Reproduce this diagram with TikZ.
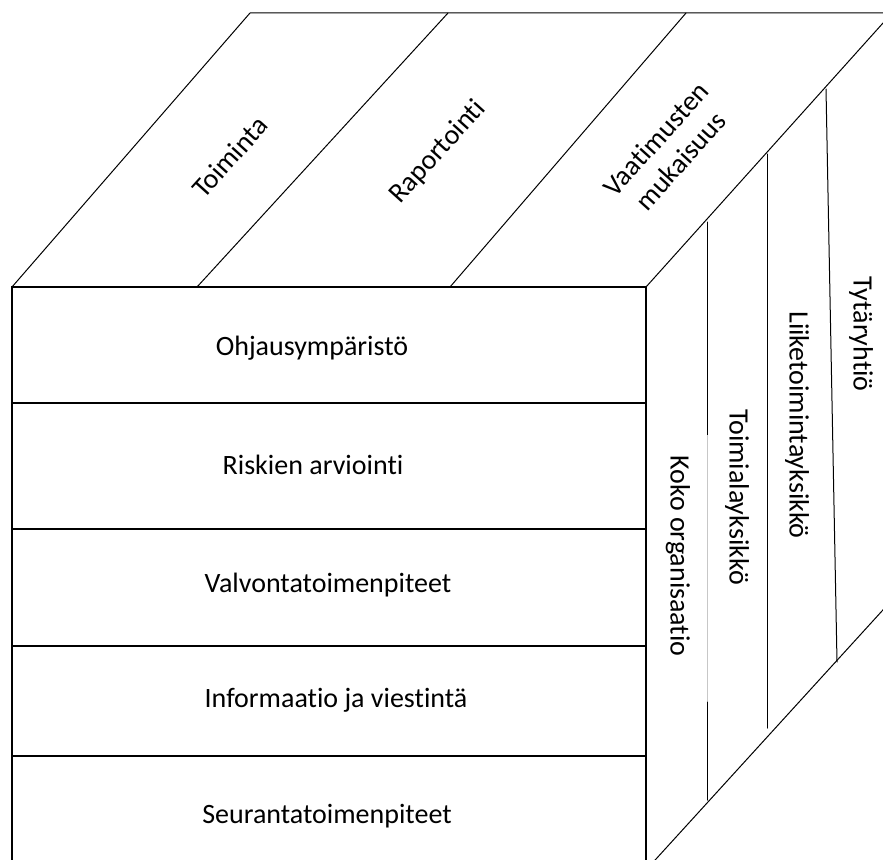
\documentclass[tikz,border=0pt]{standalone}
\usepackage{fontspec}
\setmainfont{Carlito}[Ligatures=NoCommon]
\begin{document}
\begin{tikzpicture}[x=1pt,y=-1pt,
  edge/.style={line width=1pt, line cap=round, line join=round},
  frame/.style={line width=2.2pt, line join=miter},
  rowline/.style={line width=1.3pt},
  lbl/.style={font=\fontsize{28}{33}\selectfont, inner sep=0pt},
  hlbl/.style={lbl, anchor=base},
  tlbl/.style={lbl, rotate=48, align=center},
  rlbl/.style={lbl, rotate=-90}]
\useasboundingbox (0,0) rectangle (883,859);
\clip (0,0) rectangle (883,859);
% named corners
\coordinate (FTL) at (12,287);
\coordinate (FTR) at (646,287);
\coordinate (FBL) at (12,870);
\coordinate (FBR) at (646,870);
\coordinate (BTL) at (250,13);
\coordinate (BTR) at (892,13);
\coordinate (BBR) at (892,600);
% top face
\draw[edge] (FTL) -- (BTL) -- (BTR) -- (FTR);
\coordinate (D1a) at (197,287); \coordinate (D1b) at (448,13);
\coordinate (D2a) at (450,287); \coordinate (D2b) at (686,13);
\draw[edge] (D1a) -- (D1b);
\draw[edge] (D2a) -- (D2b);
% right face
\draw[edge] (FBR) -- (BBR);
\coordinate (V1a) at (707,222); \coordinate (V1m) at (707,435);
\coordinate (V1n) at (707,702); \coordinate (V1b) at (707,800);
\draw[edge] (V1a) -- (V1m);
\draw[line width=1pt, black!22] (V1m) -- (V1n);
\draw[edge] (V1n) -- (V1b);
\coordinate (V2a) at (767,154); \coordinate (V2b) at (767,728);
\draw[edge] (V2a) -- (V2b);
\coordinate (V3a) at (826,89); \coordinate (V3b) at (837,662);
\draw[edge] (V3a) -- (V3b);
% front face rows
\coordinate (R1l) at (12,403); \coordinate (R1r) at (646,403);
\coordinate (R2l) at (12,529); \coordinate (R2r) at (646,529);
\coordinate (R3l) at (12,646); \coordinate (R3r) at (646,646);
\coordinate (R4l) at (12,756); \coordinate (R4r) at (646,756);
\draw[rowline] (R1l) -- (R1r);
\draw[rowline] (R2l) -- (R2r);
\draw[rowline] (R3l) -- (R3r);
\draw[rowline] (R4l) -- (R4r);
\draw[frame] (FBL) -- (FTL) -- (FTR) -- (FBR);
% front labels
\node[hlbl] (ohj) at (312,355) {Ohjausympäristö};
\node[hlbl] (ris) at (313,474) {Riskien arviointi};
\node[hlbl] (val) at (328,592) {Valvontatoimenpiteet};
\node[hlbl] (inf) at (336,707) {Informaatio ja viestintä};
\node[hlbl] (seu) at (327,823) {Seurantatoimenpiteet};
% top labels
\node[tlbl] (toi) at (230,157) {Toiminta};
\node[tlbl] (rap) at (438,152) {Raportointi};
\node[tlbl] (vaa) at (668,150) {Vaatimusten\\mukaisuus};
% right labels
\node[rlbl] (kok) at (678,556) {Koko organisaatio};
\node[rlbl] (tmy) at (737,497) {Toimialayksikkö};
\node[rlbl] (lty) at (797,425) {Liiketoimintayksikkö};
\node[rlbl] (tyt) at (861,334) {Tytäryhtiö};
\end{tikzpicture}
\end{document}
